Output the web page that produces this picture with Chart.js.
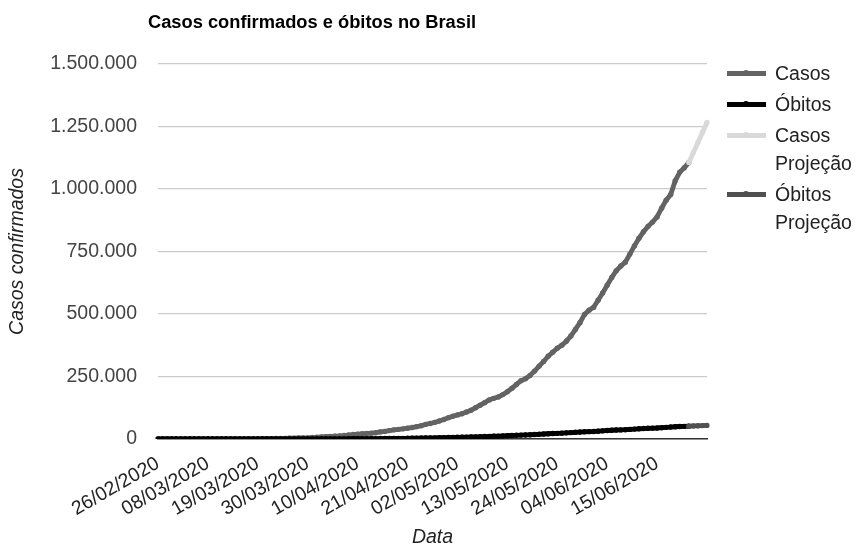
<!DOCTYPE html>
<html lang="pt-BR">
<head>
<meta charset="utf-8">
<title>Casos confirmados e óbitos no Brasil</title>
<script src="https://cdn.jsdelivr.net/npm/chart.js@4.4.1/dist/chart.umd.min.js"></script>
<style>
  html, body { margin: 0; padding: 0; background: #fff; }
  #wrap { position: relative; width: 856px; height: 547px; }
  #chart { position: absolute; left: 0; top: 0; }
  #legend {
    position: absolute; left: 727px; top: 59px;
    font: 19.5px "Liberation Sans", Arial, sans-serif; color: #222;
  }
  .item { display: flex; align-items: flex-start; margin-bottom: 3px; }
  .sym { position: relative; width: 39px; height: 28px; flex: none; margin-right: 9px; }
  .sym .ln { position: absolute; left: 0; right: 0; top: 11.5px; height: 5px; }
  .sym .pt { position: absolute; left: 16px; top: 11px; width: 6px; height: 6px; border-radius: 50%; }
  .txt { line-height: 28px; }
</style>
</head>
<body>
<div id="wrap">
  <canvas id="chart" width="856" height="547"></canvas>
  <div id="legend"></div>
</div>
<script>
// Daily axis: 26/02/2020 to 26/06/2020
const firstDay = new Date(2020, 1, 26);
const dayCount = 122;

// Ticks shown on the date axis (every 11 days)
const tickLabels = ['26/02/2020', '08/03/2020', '19/03/2020', '30/03/2020', '10/04/2020',
  '21/04/2020', '02/05/2020', '13/05/2020', '24/05/2020', '04/06/2020', '15/06/2020'];

// Confirmed cases, 26/02 to 22/06
const casos = [
  1, 1, 1, 2,
  2, 2, 2, 3, 8, 13, 19, 25, 25, 34, 52, 77, 98, 121, 200, 234, 291, 428, 621, 904, 1128,
  1546, 1891, 2201, 2433, 2915, 3417, 3904, 4256, 4579, 5717,
  6836, 8044, 9056, 10278, 11130, 12056, 13717, 15927, 17857, 19638, 20727, 22169, 23430,
  25262, 28320, 30425, 33682, 36599, 38654, 40581, 43079, 45757, 49492, 52995, 58509,
  61888, 66501, 71886, 78162, 85380,
  91299, 96396, 101147, 107780, 114715, 125218, 135106, 145328, 155939, 162699, 168331,
  177589, 188974, 202918, 218223, 233142, 241080, 254220, 271628, 291579, 310087, 330890,
  347398, 363211, 374898, 391222, 411821, 438238, 465166, 498440, 514849,
  526447, 555383, 584016, 614941, 645771, 672846, 691758, 707412, 739503, 772416, 802828,
  828810, 850514, 867624, 888271, 923189, 955377, 978142, 1032913, 1067579, 1085038, 1106470
];

// Deaths, 26/02 to 22/06
const obitos = [
  0, 0, 0, 0,
  0, 0, 0, 0, 0, 0, 0, 0, 0, 0, 0, 0, 0, 0, 0, 0,
  1, 4, 6, 11, 18, 25, 34, 46, 57, 77, 92, 111, 136, 159, 201,
  240, 324, 359, 445, 486, 564, 686, 819, 950, 1057, 1124, 1223, 1328, 1532, 1736, 1924,
  2141, 2347, 2462, 2575, 2741, 2906, 3331, 3704, 4057, 4205, 4603, 5083, 5513, 5901,
  6329, 6750, 7025, 7321, 7921, 8536, 9146, 9897, 10627, 11123, 11519, 12400, 13149, 13993,
  14817, 15633, 16118, 16792, 17971, 18859, 20047, 21048, 22013, 22666, 23473, 24512,
  25598, 26754, 27878, 28834, 29314,
  29937, 31199, 32548, 34021, 35026, 35930, 36455, 37134, 38406, 39680, 40919, 41828,
  42720, 43332, 43959, 45241, 46510, 47748, 48954, 49976, 50617, 51271
];

// Projections, 22/06 to 26/06
const casosProjecao = [1106470, 1146000, 1186000, 1226000, 1266000];
const obitosProjecao = [51271, 52100, 52900, 53700, 54500];

const pad2 = n => String(n).padStart(2, '0');
const categories = [];
for (let i = 0; i < dayCount; i++) {
  const d = new Date(firstDay.getFullYear(), firstDay.getMonth(), firstDay.getDate() + i);
  categories.push(pad2(d.getDate()) + '/' + pad2(d.getMonth() + 1) + '/' + d.getFullYear());
}

// Place a series on the full daily axis, starting at a given day index
function onAxis(values, start) {
  const out = new Array(dayCount).fill(null);
  values.forEach((v, i) => { out[start + i] = v; });
  return out;
}
const projStart = casos.length - 1;

const FONT = '"Liberation Sans", Arial, sans-serif';

const series = [
  { label: 'Casos', data: onAxis(casos, 0), color: '#636363', order: 3 },
  { label: 'Óbitos', data: onAxis(obitos, 0), color: '#000000', order: 1 },
  { label: 'Casos Projeção', data: onAxis(casosProjecao, projStart), color: '#d9d9d9', order: 2 },
  { label: 'Óbitos Projeção', data: onAxis(obitosProjecao, projStart), color: '#505050', order: 0 }
];

const headingPlugin = {
  id: 'heading',
  afterDraw(chart) {
    const ctx = chart.ctx;
    ctx.save();
    ctx.font = 'bold 18.3px ' + FONT;
    ctx.fillStyle = '#000';
    ctx.textAlign = 'left';
    ctx.textBaseline = 'alphabetic';
    ctx.fillText('Casos confirmados e óbitos no Brasil', chart.chartArea.left - 10, 28);
    ctx.restore();
  }
};

const chart = new Chart(document.getElementById('chart'), {
  type: 'line',
  data: {
    labels: categories,
    datasets: series.map(s => ({
      label: s.label,
      data: s.data,
      order: s.order,
      borderColor: s.color,
      backgroundColor: s.color,
      borderWidth: 4.8,
      pointRadius: 2.7,
      pointBorderWidth: 0,
      pointHoverRadius: 2.7,
      tension: 0,
      fill: false
    }))
  },
  options: {
    responsive: false,
    animation: false,
    events: [],
    layout: { padding: { top: 64, right: 149, bottom: 0, left: 0 } },
    plugins: {
      legend: { display: false },
      tooltip: { enabled: false },
      title: { display: false }
    },
    scales: {
      x: {
        type: 'category',
        offset: false,
        grid: { display: false, drawTicks: false },
        border: { display: true, color: '#333', width: 1.5 },
        ticks: {
          autoSkip: false,
          minRotation: 30,
          maxRotation: 30,
          padding: 13,
          color: '#222',
          font: { family: FONT, size: 19.5 },
          callback: function (value, index) {
            const lbl = categories[index];
            return tickLabels.includes(lbl) ? lbl : '';
          }
        },
        title: {
          display: true,
          text: 'Data',
          color: '#222',
          padding: 0,
          font: { family: FONT, size: 19.5, style: 'italic', lineHeight: 1 }
        },
        afterFit(scale) { scale.height = 108; }
      },
      y: {
        min: 0,
        max: 1500000,
        grid: { color: '#cccccc', lineWidth: 1.2, drawTicks: false },
        border: { display: false },
        ticks: {
          stepSize: 250000,
          padding: 21,
          color: '#444',
          font: { family: FONT, size: 19.5 },
          callback: v => v.toLocaleString('pt-BR')
        },
        title: {
          display: true,
          text: 'Casos confirmados',
          color: '#222',
          padding: { top: 6, bottom: 0 },
          font: { family: FONT, size: 19.5, style: 'italic' }
        },
        afterFit(scale) { scale.width = 158; }
      }
    }
  },
  plugins: [headingPlugin]
});

// Legend beside the plot, labels wrap after the first word
const legend = document.getElementById('legend');
series.forEach(s => {
  const item = document.createElement('div');
  item.className = 'item';
  const sym = document.createElement('div');
  sym.className = 'sym';
  sym.innerHTML = '<div class="ln" style="background:' + s.color + '"></div>' +
                  '<div class="pt" style="background:' + s.color + '"></div>';
  const txt = document.createElement('div');
  txt.className = 'txt';
  txt.innerHTML = s.label.split(' ').join('<br>');
  item.appendChild(sym);
  item.appendChild(txt);
  legend.appendChild(item);
});
</script>
</body>
</html>
